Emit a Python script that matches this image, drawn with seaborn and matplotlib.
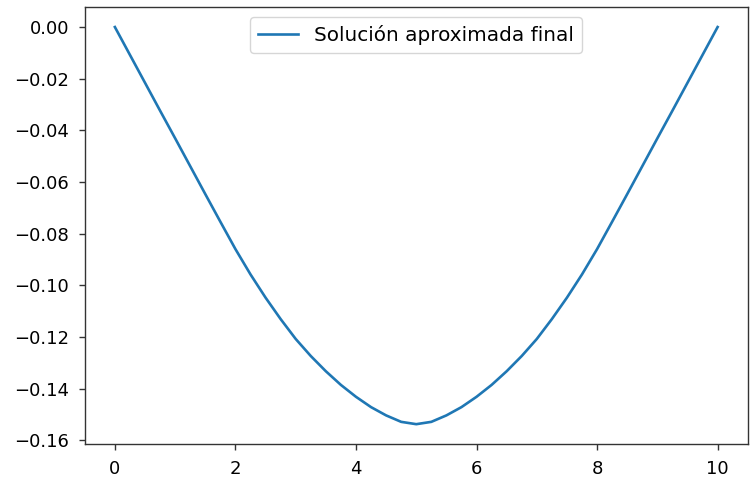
import matplotlib
matplotlib.use("Agg")
import matplotlib.pyplot as plt
import seaborn as sns
import pandas as pd

x_vals = [0.0, 0.25, 0.5, 0.75, 1.0, 1.25, 1.5, 1.75, 2.0, 2.25, 2.5, 2.75, 3.0, 3.25, 3.5, 3.75, 4.0, 4.25, 4.5, 4.75,
          5.0,
          5.25, 5.5, 5.75, 6.0, 6.25, 6.5, 6.75, 7.0, 7.25, 7.5, 7.75, 8.0, 8.25, 8.5, 8.75, 9.0, 9.25, 9.5, 9.75, 10.0]
y_vals = [0.0, -0.0108, -0.0216, -0.0324, -0.0431, -0.0539, -0.0647, -0.0754, -0.0860, -0.0958,
          -0.1048, -0.1131, -0.1208, -0.1274, -0.1333, -0.1386, -0.1432, -0.1472, -0.1504, -0.1529,
          -0.1538,
          -0.1529, -0.1504, -0.1472, -0.1432, -0.1386, -0.1333, -0.1274, -0.1208, -0.1131, -0.1048,
          -0.0958, -0.0860, -0.0754, -0.0647, -0.0539, -0.0431, -0.0324, -0.0216, -0.0108, 0.0]
label = "Solución aproximada final"

df = pd.DataFrame({"x": x_vals, "y": y_vals})

fig = plt.figure(figsize=(7.5, 4.79), dpi=100)
ax = fig.add_axes([0.113, 0.073, 0.884, 0.912])
sns.lineplot(data=df, x="x", y="y", ax=ax, label=label, color="#1f77b4", linewidth=1.9)
ax.set_xlabel("")
ax.set_ylabel("")
ax.tick_params(labelsize=13, length=4.3, width=1.0, pad=7, colors="#333333", labelcolor="black")
for s in ax.spines.values():
    s.set_linewidth(1.0)
    s.set_color("#333333")
ax.legend(loc="upper center", fontsize=14.4, handlelength=2.0)
fig.savefig("out.png", dpi=100)
